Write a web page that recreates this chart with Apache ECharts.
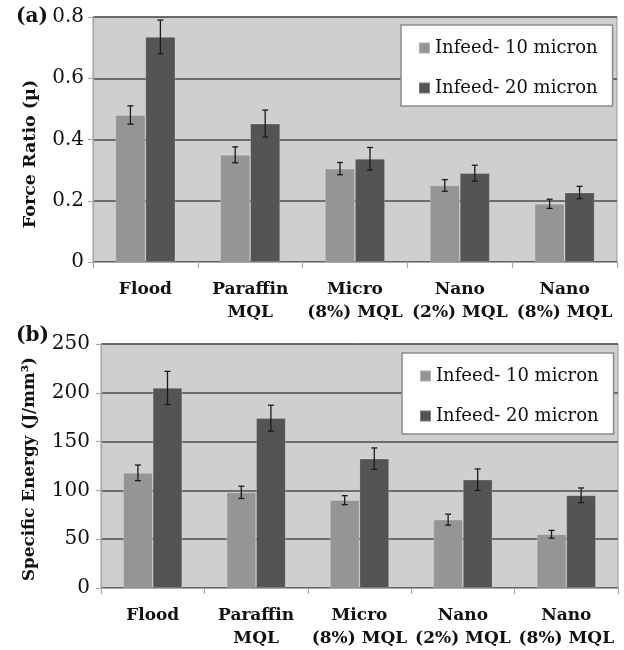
<!DOCTYPE html>
<html>
<head>
<meta charset="utf-8">
<script src="https://cdn.jsdelivr.net/npm/echarts@6/dist/echarts.min.js"></script>
<style>
html,body{margin:0;padding:0;background:#fff;}
#chart{width:624px;height:650px;}
</style>
</head>
<body>
<div id="chart"></div>
<script>
const categories = ['Flood', 'Paraffin\nMQL', 'Micro\n(8%) MQL', 'Nano\n(2%) MQL', 'Nano\n(8%) MQL'];
const seriesNames = ['Infeed- 10 micron', 'Infeed- 20 micron'];
const forceRatio10 = [0.48, 0.35, 0.305, 0.25, 0.19];
const forceRatio10Err = [0.03, 0.026, 0.02, 0.019, 0.015];
const forceRatio20 = [0.735, 0.452, 0.337, 0.29, 0.227];
const forceRatio20Err = [0.055, 0.044, 0.037, 0.026, 0.02];
const energy10 = [118, 98, 90, 70, 55];
const energy10Err = [8, 6.3, 4.6, 5.6, 4];
const energy20 = [205, 174, 132.5, 111, 95];
const energy20Err = [17, 13.3, 11, 11, 7.5];
const forceTicks = { min: 0, max: 0.8, interval: 0.2 };
const energyTicks = { min: 0, max: 250, interval: 50 };

const LIGHT = '#959595', DARK = '#545454';
const FONT = 'DejaVu Serif';
const BAR_FRAC = 0.286;

function errSeries(name, idx, vals, errs, side) {
  return {
    name: name, type: 'custom', xAxisIndex: idx, yAxisIndex: idx, z: 10,
    data: vals.map((v, i) => [i, v, errs[i]]),
    encode: { x: 0, y: 1 },
    renderItem: function (params, api) {
      const c = api.value(0), v = api.value(1), e = api.value(2);
      const band = api.size([1, 0])[0];
      const off = side * band * BAR_FRAC / 2;
      const t = api.coord([c, v + e]);
      const b = api.coord([c, v - e]);
      const x = t[0] + off;
      const cap = 3;
      const st = { stroke: '#1a1a1a', lineWidth: 1.3 };
      return { type: 'group', children: [
        { type: 'line', shape: { x1: x, y1: t[1], x2: x, y2: b[1] }, style: st },
        { type: 'line', shape: { x1: x - cap, y1: t[1], x2: x + cap, y2: t[1] }, style: st },
        { type: 'line', shape: { x1: x - cap, y1: b[1], x2: x + cap, y2: b[1] }, style: st }
      ]};
    }
  };
}

function barSeries(name, idx, vals, color) {
  return { name: name, type: 'bar', xAxisIndex: idx, yAxisIndex: idx, data: vals,
    barWidth: (BAR_FRAC * 100) + '%', barGap: '0%',
    itemStyle: { color: color, borderColor: 'rgba(255,255,255,0.25)', borderWidth: 0.8 } };
}

function xAxis(idx) {
  return { type: 'category', gridIndex: idx, data: categories,
    axisLine: { show: true, lineStyle: { color: '#a8a8a8', width: 1.2 } },
    axisTick: { show: true, length: 6, lineStyle: { color: '#a8a8a8', width: 1.2 } },
    axisLabel: { margin: 16, fontFamily: FONT, fontWeight: 'bold', fontSize: 17, lineHeight: 23, color: '#111', interval: 0 },
    splitLine: { show: false } };
}
function yAxis(idx, t, margin) {
  return { type: 'value', gridIndex: idx, min: t.min, max: t.max, interval: t.interval,
    axisLine: { show: true, lineStyle: { color: '#a8a8a8', width: 1.2 } },
    axisTick: { show: true, length: 5, lineStyle: { color: '#a8a8a8', width: 1.2 } },
    axisLabel: { margin: margin, fontFamily: FONT, fontSize: 20, color: '#111' },
    splitLine: { show: true, lineStyle: { color: '#4c4c4c', width: 1.6 } } };
}
function legend(left, top) {
  return { data: seriesNames, orient: 'vertical', left: left, top: top,
    icon: 'rect', itemWidth: 11, itemHeight: 11, itemGap: 20,
    padding: [13, 15, 8, 17], backgroundColor: '#fff', borderColor: '#8a8a8a', borderWidth: 1.5,
    textStyle: { fontFamily: FONT, fontSize: 18, color: '#111', lineHeight: 20 } };
}

const chart = echarts.init(document.getElementById('chart'), null, { renderer: 'canvas' });
chart.setOption({
  animation: false,
  backgroundColor: '#fff',
  grid: [
    { left: 93, top: 17, right: 7, height: 245, show: true, backgroundColor: '#cfcfcf', borderColor: '#9a9a9a', borderWidth: 1 },
    { left: 101, top: 344, right: 6, height: 245, show: true, backgroundColor: '#cfcfcf', borderColor: '#9a9a9a', borderWidth: 1 }
  ],
  legend: [legend(401, 25), legend(402, 353)],
  xAxis: [xAxis(0), xAxis(1)],
  yAxis: [yAxis(0, forceTicks, 9), yAxis(1, energyTicks, 11)],
  series: [
    barSeries(seriesNames[0], 0, forceRatio10, LIGHT),
    barSeries(seriesNames[1], 0, forceRatio20, DARK),
    barSeries(seriesNames[0], 1, energy10, LIGHT),
    barSeries(seriesNames[1], 1, energy20, DARK),
    errSeries('e1', 0, forceRatio10, forceRatio10Err, -1),
    errSeries('e2', 0, forceRatio20, forceRatio20Err, 1),
    errSeries('e3', 1, energy10, energy10Err, -1),
    errSeries('e4', 1, energy20, energy20Err, 1)
  ],
  graphic: [
    { type: 'text', left: 16, top: 7, style: { text: '(a)', font: 'bold 20px "DejaVu Serif"', fill: '#111' } },
    { type: 'text', left: 16, top: 326, style: { text: '(b)', font: 'bold 20px "DejaVu Serif"', fill: '#111' } },
    { type: 'text', x: 30, y: 154, rotation: Math.PI / 2,
      style: { text: 'Force Ratio (µ)', font: 'bold 17.5px "DejaVu Serif"', fill: '#111', align: 'center', verticalAlign: 'middle' } },
    { type: 'text', x: 30, y: 469, rotation: Math.PI / 2,
      style: { text: 'Specific Energy (J/mm³)', font: 'bold 16.8px "DejaVu Serif"', fill: '#111', align: 'center', verticalAlign: 'middle' } }
  ]
});
</script>
</body>
</html>
